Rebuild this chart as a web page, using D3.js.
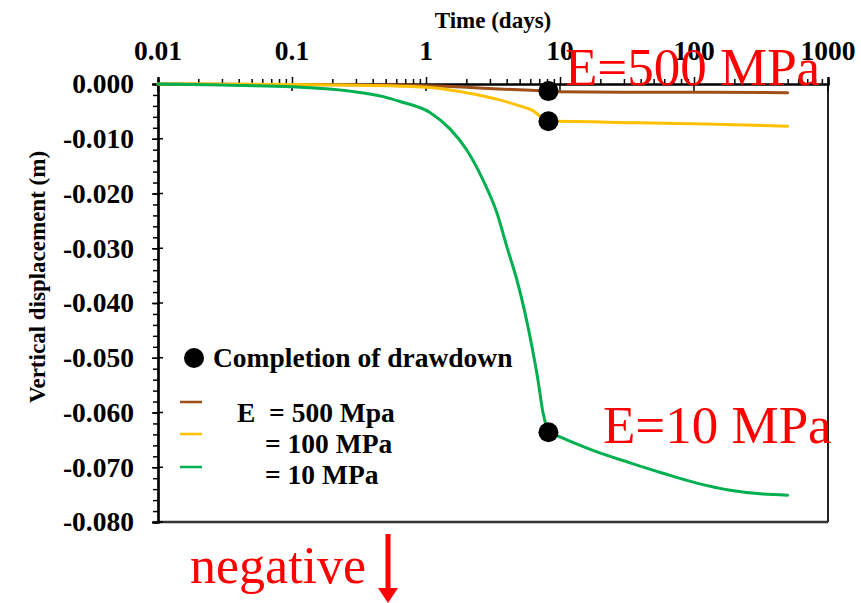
<!DOCTYPE html>
<html><head><meta charset="utf-8">
<script src="https://cdn.jsdelivr.net/npm/d3@7"></script>
<style>
html,body{margin:0;padding:0;background:#fff;}
text{font-family:"Liberation Serif","Times New Roman",serif;}
</style></head>
<body><svg id="c" width="861" height="603"></svg>
<script>
// ---- data ----
const xTickValues = [0.01, 0.1, 1, 10, 100, 1000];
const xTickLabels = ["0.01", "0.1", "1", "10", "100", "1000"];
const yTickValues = [0, -0.01, -0.02, -0.03, -0.04, -0.05, -0.06, -0.07, -0.08];
const yTickLabels = ["0.000", "-0.010", "-0.020", "-0.030", "-0.040", "-0.050", "-0.060", "-0.070", "-0.080"];
const seriesNames = ["E  = 500 Mpa", "= 100 MPa", "= 10 MPa"];
const drawdownTime = 8.2;

const brownT = [0.01, 0.1, 0.6, 2, 3.5, 5.5, 8.2, 9.4, 30, 100, 500];
const brownV = [0, -0.0001, -0.0002, -0.0006, -0.0009, -0.0011, -0.0013, -0.0014, -0.0015, -0.0015, -0.0016];

const yellowT = [0.01, 0.1, 0.64, 1.12, 2.0, 3.55, 5.0, 6.3, 7.0, 8.2, 9.4, 39, 123, 500];
const yellowV = [0, -0.0001, -0.0004, -0.0007, -0.0016, -0.0029, -0.0040, -0.0049, -0.0058, -0.0068, -0.0068, -0.0071, -0.0073, -0.0077];

const greenT = [0.01, 0.03, 0.1, 0.27, 0.48, 0.64, 1.07, 1.51, 2.02, 2.66, 3.39, 4.02, 4.77, 5.48, 6.18, 6.85, 7.47, 8.2, 10.5, 18.9, 33.3, 58.7, 105, 186, 327, 500];
const greenV = [0, -0.0002, -0.0005, -0.0013, -0.0023, -0.0032, -0.0052, -0.0082, -0.0121, -0.0175, -0.0236, -0.0298, -0.0358, -0.0418, -0.0480, -0.0541, -0.0601, -0.0636, -0.0647, -0.0672, -0.0692, -0.0711, -0.0729, -0.0742, -0.0749, -0.0751];

const seriesColors = ["#9E4E17", "#FFC000", "#00B050"];

// ---- layout ----
const svg = d3.select("#c");
const L = 158, R = 828, T = 84, B = 522;
const x = d3.scaleLog().domain([0.01, 1000]).range([L, R]);
const y = d3.scaleLinear().domain([0, -0.08]).range([T, B]);

const series = [
  {t: brownT, v: brownV, c: seriesColors[0]},
  {t: yellowT, v: yellowV, c: seriesColors[1]},
  {t: greenT, v: greenV, c: seriesColors[2]}
];

// frame (right and bottom)
svg.append("line").attr("x1", R).attr("x2", R).attr("y1", T).attr("y2", B).attr("stroke", "#222").attr("stroke-width", 2);
svg.append("line").attr("x1", L).attr("x2", R).attr("y1", B).attr("y2", B).attr("stroke", "#333").attr("stroke-width", 2.5);

// top axis (x)
const minorX = [];
for (let e = -2; e < 3; e++) for (let k = 2; k <= 9; k++) minorX.push(k * Math.pow(10, e));
const gx = svg.append("g").attr("transform", `translate(0,${T})`);
gx.call(d3.axisTop(x).tickValues(minorX).tickSize(5).tickFormat(""));
gx.append("g").call(d3.axisTop(x).tickValues(xTickValues).tickSize(7).tickFormat(""));
gx.selectAll("path.domain").attr("stroke", "#000").attr("stroke-width", 2.2);
gx.selectAll(".tick line").attr("stroke", "#000").attr("stroke-width", 1.5);
gx.append("g").selectAll("line").data(xTickValues).join("line")
  .attr("x1", d => x(d)).attr("x2", d => x(d)).attr("y1", 0).attr("y2", 7)
  .attr("stroke", "#000").attr("stroke-width", 1.5);
gx.append("g").selectAll("text").data(xTickValues).join("text")
  .attr("x", d => x(d)).attr("y", -24).attr("text-anchor", "middle")
  .attr("font-size", 27.5).attr("font-weight", "bold").attr("fill", "#000")
  .text((d, i) => xTickLabels[i]);

// left axis (y)
const minorY = d3.range(0, 41).map(i => -i * 0.002);
const gy = svg.append("g").attr("transform", `translate(${L},0)`);
gy.call(d3.axisLeft(y).tickValues(minorY).tickSize(5).tickFormat(""));
gy.append("g").call(d3.axisLeft(y).tickValues(yTickValues).tickSize(6).tickFormat(""));
gy.selectAll("path.domain").attr("stroke", "#000").attr("stroke-width", 2.2);
gy.selectAll(".tick line").attr("stroke", "#000").attr("stroke-width", 1.5);
gy.append("g").selectAll("line").data(yTickValues).join("line")
  .attr("x1", 0).attr("x2", 5).attr("y1", d => y(d)).attr("y2", d => y(d))
  .attr("stroke", "#000").attr("stroke-width", 1.5);
gy.append("g").selectAll("text").data(yTickValues).join("text")
  .attr("x", -24).attr("y", d => y(d)).attr("dy", "0.34em").attr("text-anchor", "end")
  .attr("font-size", 27.5).attr("font-weight", "bold").attr("fill", "#000")
  .text((d, i) => yTickLabels[i]);

// axis titles
svg.append("text").attr("x", 493).attr("y", 28).attr("text-anchor", "middle")
  .attr("font-size", 23).attr("font-weight", "bold").text("Time (days)");
svg.append("text").attr("transform", "translate(45,277) rotate(-90)").attr("text-anchor", "middle")
  .attr("font-size", 23).attr("font-weight", "bold").text("Vertical displacement (m)");

// curves (split at drawdown completion to keep the kink)
const line = d3.line().x(d => x(d[0])).y(d => y(d[1])).curve(d3.curveMonotoneX);
series.forEach(s => {
  const pts = s.t.map((t, i) => [t, s.v[i]]);
  const k = s.t.indexOf(drawdownTime);
  [pts.slice(0, k + 1), pts.slice(k)].forEach(seg => {
    svg.append("path").attr("d", line(seg)).attr("fill", "none")
      .attr("stroke", s.c).attr("stroke-width", 3).attr("stroke-linecap", "round");
  });
});

// drawdown completion dots
series.forEach(s => {
  const k = s.t.indexOf(drawdownTime);
  svg.append("circle").attr("cx", x(s.t[k])).attr("cy", y(s.v[k])).attr("r", 10).attr("fill", "#000");
});

// legend
svg.append("circle").attr("cx", 194).attr("cy", 358).attr("r", 10).attr("fill", "#000");
svg.append("text").attr("x", 213).attr("y", 367).attr("font-size", 27.5).attr("font-weight", "bold").text("Completion of drawdown");
const legY = [402, 434, 467];
const legTextX = [237, 265, 265];
const legTextY = [422, 453, 484];
series.forEach((s, i) => {
  svg.append("line").attr("x1", 180).attr("x2", 202).attr("y1", legY[i]).attr("y2", legY[i])
    .attr("stroke", s.c).attr("stroke-width", 2.5);
  svg.append("text").attr("x", legTextX[i]).attr("y", legTextY[i]).attr("font-size", 27.5)
    .attr("font-weight", "bold").style("white-space", "pre").attr("xml:space", "preserve").text(seriesNames[i]);
});

// annotations
svg.append("text").attr("x", 565).attr("y", 85).attr("font-size", 53).attr("fill", "#FF0000").text("E=500 MPa");
svg.append("text").attr("x", 603).attr("y", 443).attr("font-size", 53).attr("fill", "#FF0000").text("E=10 MPa");
svg.append("text").attr("x", 190).attr("y", 583).attr("font-size", 52).attr("fill", "#FF0000").text("negative");
svg.append("line").attr("x1", 388).attr("x2", 388).attr("y1", 534).attr("y2", 590).attr("stroke", "#FF0000").attr("stroke-width", 5);
svg.append("path").attr("d", "M378,588 L398,588 L388,603 Z").attr("fill", "#FF0000");
</script></body></html>
